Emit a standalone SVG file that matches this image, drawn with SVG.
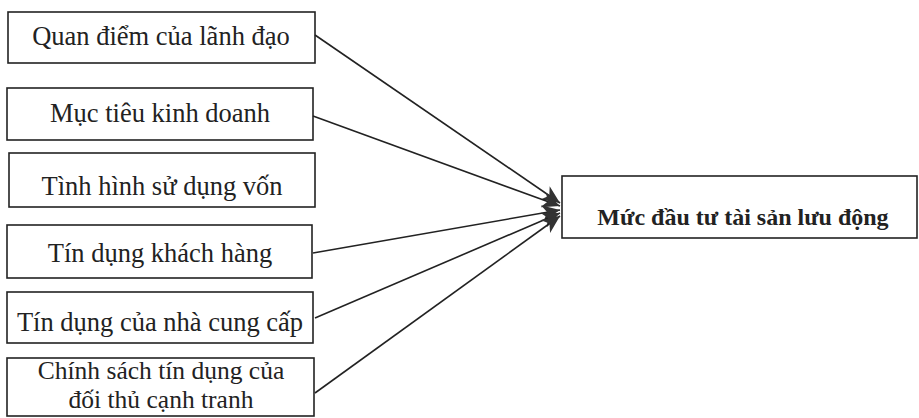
<svg xmlns="http://www.w3.org/2000/svg" width="919" height="418" viewBox="0 0 919 418">
<style>
.box{fill:#fff;stroke:#222;stroke-width:1.6}
.t{font-family:"Liberation Serif","Times New Roman",serif;font-size:26.5px;fill:#222;text-anchor:middle}
.t6{font-size:25.5px}
.tb{font-family:"Liberation Serif","Times New Roman",serif;font-size:24px;font-weight:bold;fill:#222;text-anchor:middle}
.c{fill:none;stroke:#222;stroke-width:1.6}
</style>
<defs>
<marker id="ah" markerUnits="userSpaceOnUse" markerWidth="20" markerHeight="16" refX="18" refY="8" orient="auto">
<path d="M0,0 L18,8 L0,16 L5,8 Z" fill="#333"/>
</marker>
</defs>
<rect width="919" height="418" fill="#fff"/>
<g id="n1"><rect class="box" x="8" y="12" width="307" height="51"/><text class="t" x="161" y="45">Quan điểm của lãnh đạo</text></g>
<g id="n2"><rect class="box" x="7" y="88" width="306" height="52"/><text class="t" x="160" y="122">Mục tiêu kinh doanh</text></g>
<g id="n3"><rect class="box" x="9" y="153" width="306" height="54"/><text class="t" x="162" y="195">Tình hình sử dụng vốn</text></g>
<g id="n4"><rect class="box" x="7" y="225" width="305" height="53"/><text class="t" x="160" y="262">Tín dụng khách hàng</text></g>
<g id="n5"><rect class="box" x="7" y="292" width="306" height="51"/><text class="t" x="160" y="331">Tín dụng của nhà cung cấp</text></g>
<g id="n6"><rect class="box" x="7" y="358" width="307" height="58"/><text class="t t6" x="161" y="379">Chính sách tín dụng của</text><text class="t t6" x="161" y="408">đối thủ cạnh tranh</text></g>
<g id="target"><rect class="box" x="562" y="176" width="355" height="62"/><text class="tb" x="743" y="225">Mức đầu tư tài sản lưu động</text></g>
<g id="connectors">
<line class="c" x1="315" y1="35" x2="560" y2="203" marker-end="url(#ah)"/>
<line class="c" x1="313" y1="116" x2="560" y2="206" marker-end="url(#ah)"/>
<line class="c" x1="313" y1="253" x2="560" y2="210" marker-end="url(#ah)"/>
<line class="c" x1="315" y1="318" x2="560" y2="213" marker-end="url(#ah)"/>
<line class="c" x1="315" y1="393" x2="560" y2="216" marker-end="url(#ah)"/>
</g>
</svg>
